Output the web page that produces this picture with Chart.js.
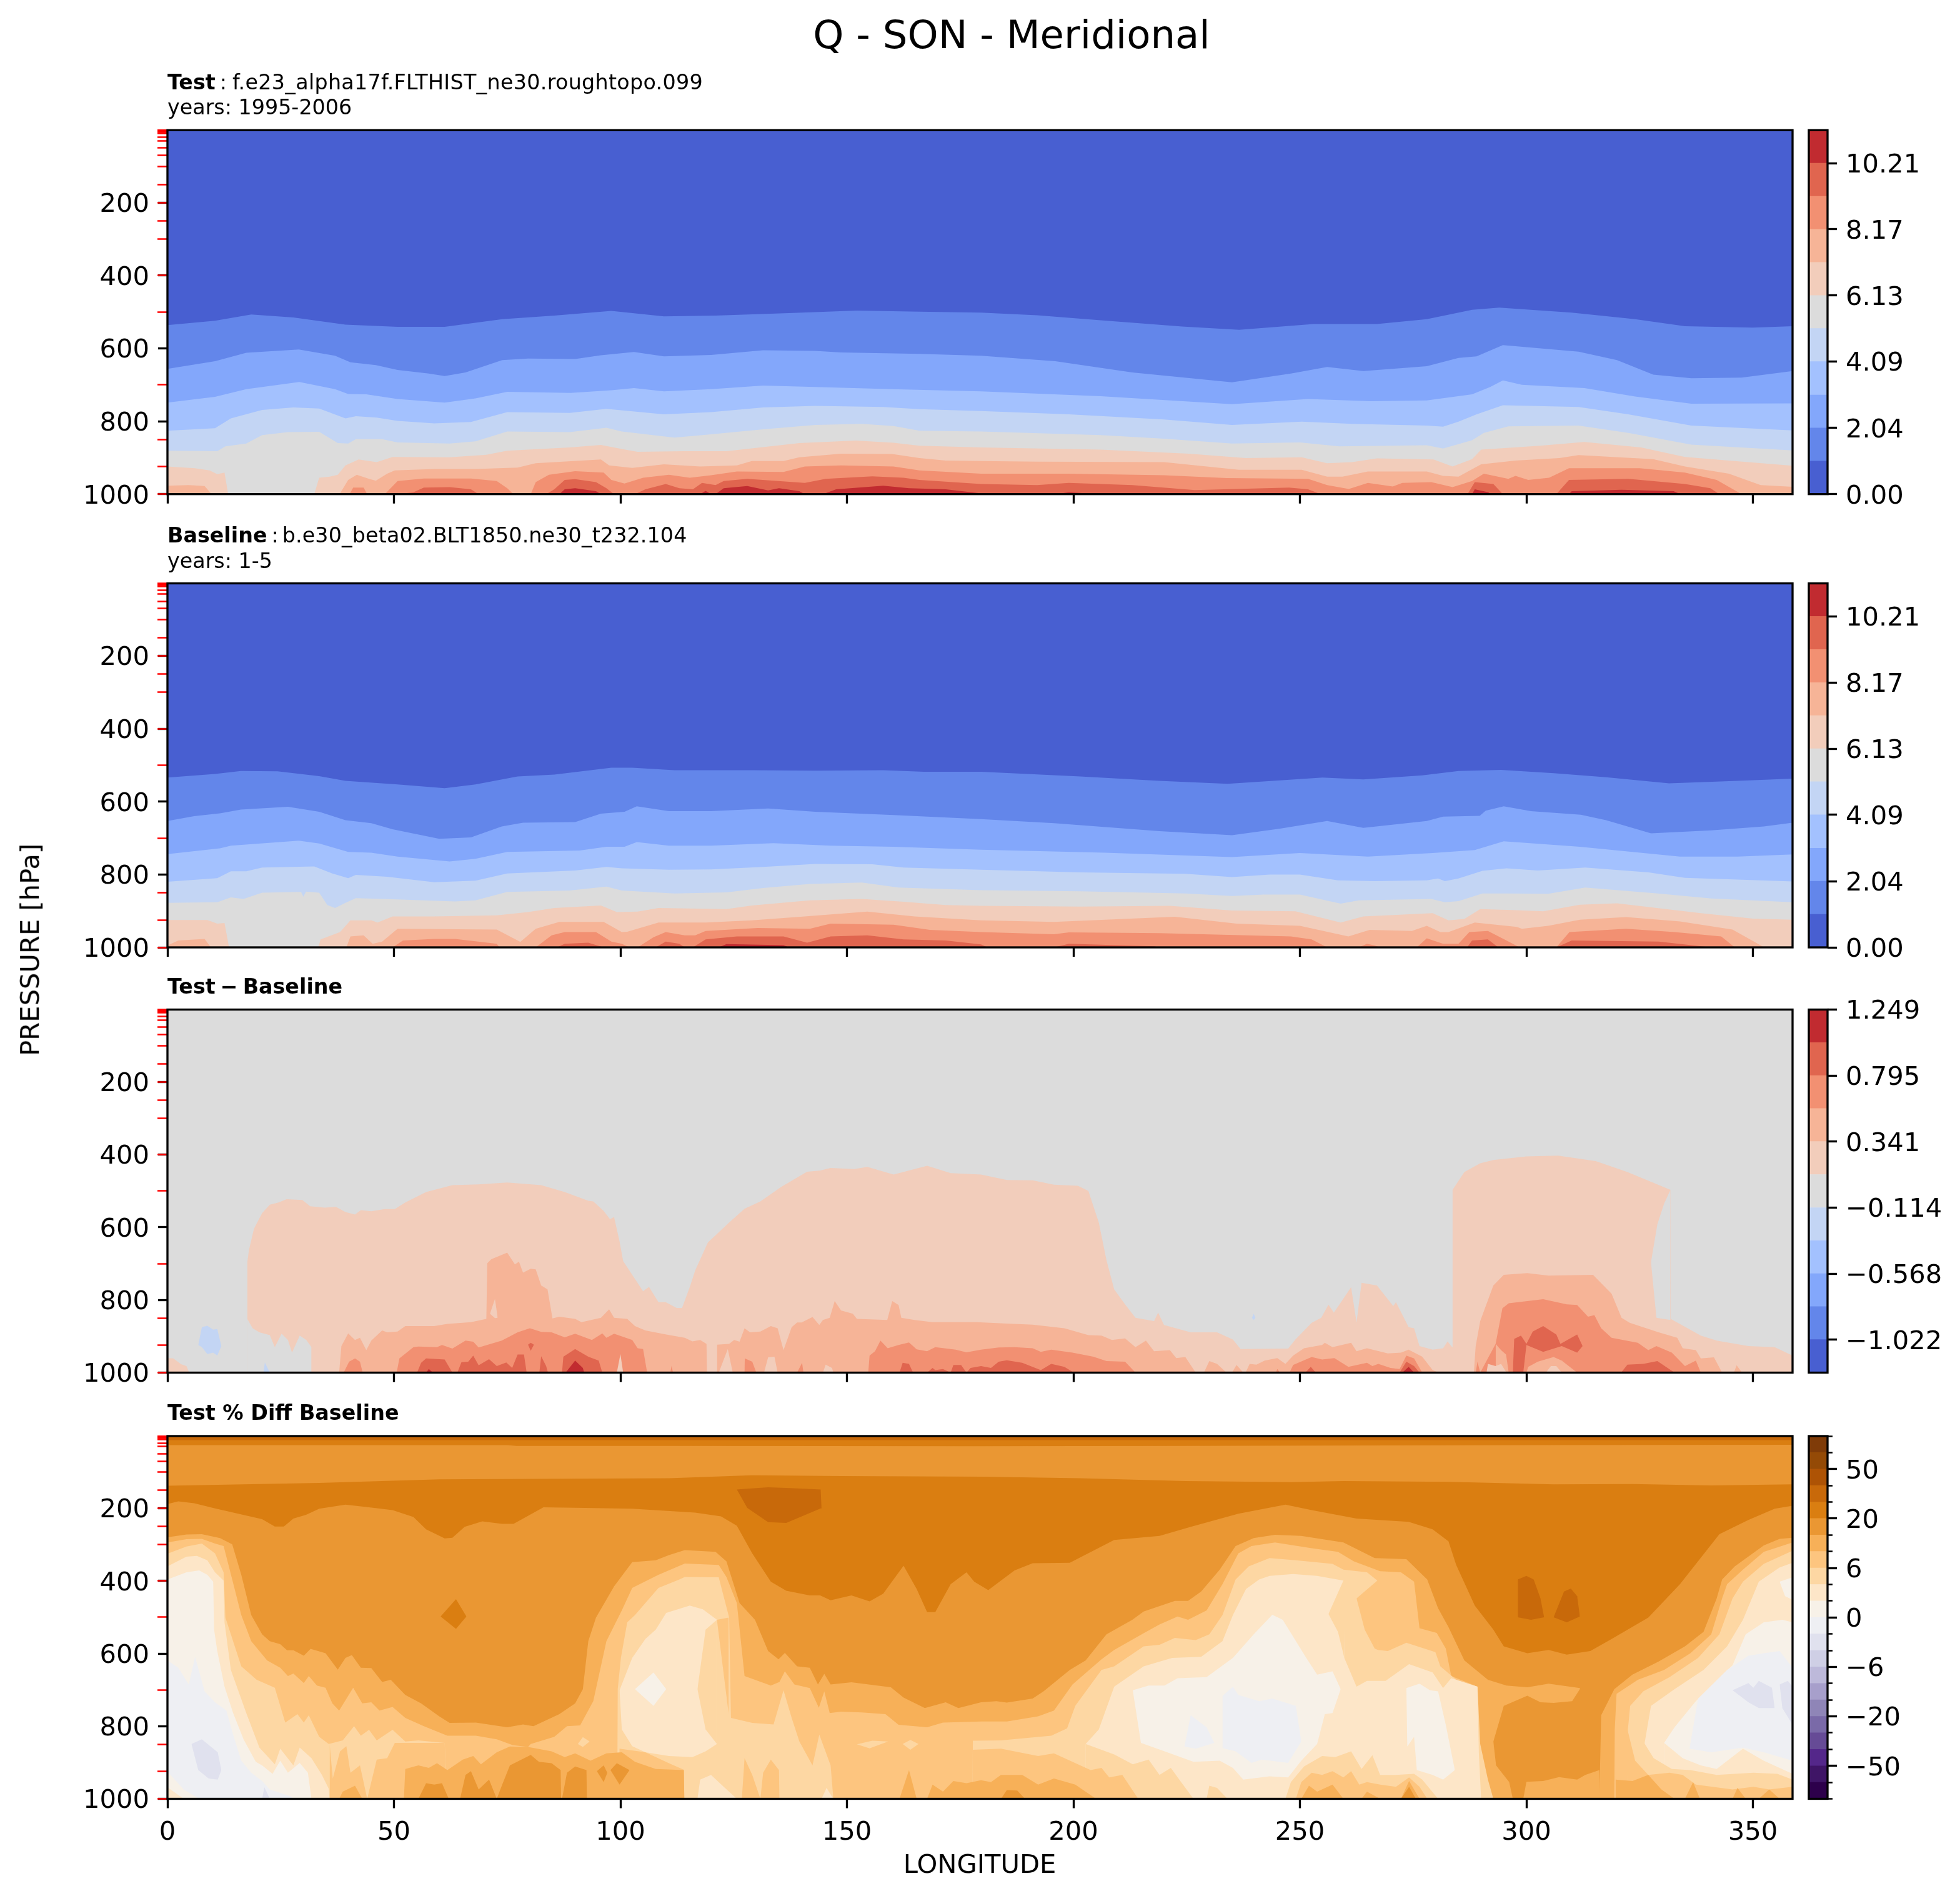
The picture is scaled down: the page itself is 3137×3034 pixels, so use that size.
<!DOCTYPE html>
<html><head><meta charset="utf-8">
<script src="https://cdn.jsdelivr.net/npm/chart.js@4"></script>
<style>
html,body{margin:0;padding:0;background:#fff}
#fig{position:relative;width:3137px;height:3034px;overflow:hidden;font-family:"DejaVu Sans",sans-serif;color:#000}
canvas{position:absolute;display:block}
.t{position:absolute;white-space:nowrap;line-height:1}
</style></head><body><div id="fig"></div>
<script>
// ===== Colour scales (bottom to top of the colour bars) =====
const COOLWARM=['#485fd1','#6386ea','#83a7fb','#a3c1fe','#c3d5f4','#dcdcdc','#f2cdbb','#f6b497','#f29072','#e0654f','#c12b30'];
const PUOR=['#2d004b','#3f1566','#54278a','#664b96','#7a6aa8','#8f85b7','#a79fcb','#bdb9da','#cfcfe5','#e0e1ee','#eeeff3','#f7f1e8','#fde6c8','#fdd7a3','#fdc57f','#f7b058','#ea9733','#da7e11','#c8690a','#ae5305','#944a06','#7f3b08'];
const CB1_LEVELS=[0,1.02,2.04,3.06,4.09,5.11,6.13,7.15,8.17,9.19,10.21,11.23];
const CB1_TICKS=[0,2.04,4.09,6.13,8.17,10.21];
const CB1_LABELS=['0.00','2.04','4.09','6.13','8.17','10.21'];
const CB3_LEVELS=[-1.249,-1.022,-0.795,-0.568,-0.341,-0.114,0.114,0.341,0.568,0.795,1.022,1.249];
const CB3_TICKS=[-1.022,-0.568,-0.114,0.341,0.795,1.249];
const CB3_LABELS=['\u22121.022','\u22120.568','\u22120.114','0.341','0.795','1.249'];
const CB4_LEVELS=[-100,-75,-50,-40,-30,-20,-15,-10,-6,-4,-2,0,2,4,6,10,15,20,30,40,50,75,100];
const CB4_TICKS=[-50,-20,-6,0,6,20,50];
const CB4_LABELS=['\u221250','\u221220','\u22126','0','6','20','50'];
const PLEVELS=[1,2,3,5,7,10,20,30,50,70,100,150,200,250,300,400,500,700,850,925,1000];
const PTICKS=[200,400,600,800,1000];
const LONTICKS=[0,50,100,150,200,250,300,350];

// ===== Panel 1: contour boundaries as lon,pressure pairs =====
const T_FULL=[0,1,358.75,1];
const T1=[0,536,10.5,524,18.5,507,27.8,515,39.3,535,50.8,541,61.2,541,73.9,520,85.4,510,98,497,109.6,512,121,510,137.2,503,152.2,496,166,499,179.6,502,192,509,206,523,224,540,236.6,549,253,533,267,533,278,520,288,494,294,488,310,502,324,520,335,539,350,543,358.75,539];
const T2=[0,656,10.5,635,17.4,612,29,603,37,620,40.4,638,46,646,50.8,659,57.7,669,61.2,676,65.8,666,73.9,632,79.6,628,90,629,95.7,619,103,610,109.6,622,120,618,131.5,605,143,607,148.7,611,166,615,179.6,620,196,635,213,666,235,693,248,669,256,651,264,662,278,649,285,626,289,622,294.8,591,311.5,609,320,632,328,672,336.4,682,347.5,680,358.75,662];
const T3=[0,749,10.5,733,17.4,712,29.1,692,37,712,39.9,725,43.9,726,50.8,739,61.2,749,68,737,75,719,89,722,98,715,103,709,109.6,718,120,712,131.5,702,143,706,160,712,179.6,718,206,731,235,753,251.8,739,265.7,745,278,743,288,726,292,706,294.8,688,299,700,312.8,709,324,732,336.4,752,358.75,751];
const T4=[0,826,10.5,819,14,792,20.9,769,27.8,762,33.5,765,39.3,792,41.6,786,46.2,790,50.8,799,58.9,806,67,802,75,775,88.8,777,96.9,766,109.6,781,120,775,131.5,762,143,758,158,761,166,767,179.6,772,199,781,220,795,235,810,250.4,801,261.5,807,278,812,281.6,815,285,801,289,781,294.8,756,311.5,761,322.5,781,336.4,812,358.75,825];
const T5=[0,881,11,882,12.8,869,17.4,861,20.9,838,26.6,830,33.5,829,37.6,860,39.9,861,41.6,849,47.4,849,50.8,858,62.3,861,68,855,75,828,88.8,830,96.9,818,100.3,828,111.9,845,120,836,131.5,822,143,810,153.3,807,160.3,813,166,826,179.6,828,206,838,220,848,235,861,250,858,258.7,869,278,866,281.6,875,288,852,290.6,832,296,814,311.5,812,322.5,832,336.4,864,358.75,880];
const T6=[0,924,6,929,9.3,935,11,945,12.6,941,13.4,1000,32.4,1000,33.5,955,35.8,952,37.6,947,39.3,921,42.2,905,46.2,912,49.7,898,62.3,899,70.4,892,75,881,88.8,872,95.7,865,100.3,876,103.8,884,114,882,123.4,882,131.5,871,139.5,860,152,853,160.3,859,166,867,179.6,872,206,878,225.5,889,238,901,250.4,899,256,915,261.5,912,267,902,279.5,905,283.7,924,288,904,290,878,303,867,312.8,857,325.3,872,335,898,344.7,908,358.75,922];
const T7=[0,977,4.7,975,8.2,978,9.6,998,10,1000,38,1000,39.9,961,41.8,947,44.5,958,46,963,48.5,944,50.2,935,59,931,68,931,77.3,927,81.3,915,95.7,905,97.5,921,102.6,928,109.6,918,117.6,924,125.7,921,129,909,136,909,139.5,899,148.7,889,160,890,166,901,171.8,908,179.6,909,192,911,220,912,236.5,933,250.4,933,256,952,259.4,952,265,938,278,938,281.6,950,285,952,290,918,297.6,908,307.3,901,311.5,893,328,904,335,924,344.7,944,351.7,975,358.75,980];
const T8=[40.2,1000,41,982,43.3,982,44.1,1000,48,1000,50.8,964,56.6,957,67,957,72.7,964,75,984,76.4,1000,80.2,1000,81.3,967,84.2,947,90,937,96.3,941,98,961,100.9,971,105,955,110.7,947,115.3,955,120,948,125.7,938,136,939,140.7,924,148.7,921,160.3,924,166,935,179.6,944,199,944,220,948,233.8,956,251.8,958,256,975,260.8,986,265,969,270.5,979,272.6,969,279,967,283.7,981,288,964,290.6,944,296,958,297.6,950,300.4,961,305,955,309.4,929,317,929,325,929,335,941,342,961,347.5,1000,358.75,1000];
const T9=[50.8,1000,54.3,995,56.6,982,62.3,981,67,987,68.7,1000,83.6,1000,85.4,987,87.7,961,90,959,94.6,967,96.9,984,98.6,1000,103.2,1000,105.5,987,110,972,113,984,116,987,118,969,121,975,122.8,964,128,958,140.7,969,145.3,958,155.6,951,162.5,955,166,961,179.6,972,192,975,199,969,213,975,226.8,989,247.6,982,251.8,987,254.6,1000,287,1000,288.6,967,292.7,972,294.8,1000,306.6,1000,309.4,961,322.5,958,335,972,340.6,984,342.6,1000];
const T10=[86.5,1000,87.7,987,90,984,94.6,992,95.7,1000,117.6,1000,118.8,991,120,1000,121,1000,122.8,984,128,978,132.6,990,135,984,139.5,992,140.7,1000,144.7,1000,147.6,987,158,977,163.7,984,171.8,987,179.6,998,196,1000,199,995,206,1000,288,1000,288.6,987,291.6,995,292,1000,309.4,1000,310,992,321,988,332.5,992,334,1000];

// ===== Panel 2 =====
const B1=[0,534,10.5,524,16.2,516,24.3,517,33.5,530,39.3,543,50.8,553,61.2,563,68,553,77.3,531,85.4,526,98,507,102.6,507,111.9,514,129,514,143,515,158,514,167,518,179.6,518,201.5,531,219,543,234,551,243,544,255,534,264,539,277,528,285,516,294.4,513,306,522,317.6,533,331.5,550,346.6,543,358.75,537];
const B2=[0,653,5.9,640,11.6,632,16.2,622,26.6,614,33.5,628,39.3,651,45,659,49.7,676,60,702,67,698,73.8,668,78.5,658,90,656,95.7,633,100.9,628,103.6,613,110.7,626,120,626,132.6,619,143,628,160.3,637,179.6,648,195.7,659,219,681,235,692,245.6,674,256,653,264,672,278,653,281.6,641,289.7,639,291,625,295,613,301,626,312,636,317.6,651,327.5,687,340.8,679,352.4,668,358.75,658];
const B3=[0,744,11.6,728,14,721,29,707,33.5,715,39.9,738,45,740,50.8,751,62.3,764,68,757,75,738,91,734,96.9,724,100.9,724,103.6,711,110.7,721,120,721,133.8,714,146.4,721,160.3,724,179.6,732,207,740,235,752,250,741,265,751,279.3,741,288.6,733,295,709,311.8,724,333.9,751,346.6,751,358.75,745];
const B4=[0,820,11,810,14,791,17.4,791,20.9,781,32.4,778,36.4,797,39.9,810,41.6,801,48.5,806,58.9,821,68,817,75,797,90,789,96.9,779,100.3,783,110.7,787,120,786,131.5,779,143,771,155.6,772,162.5,781,179.6,787,201.5,794,224.7,798,235,807,243.3,800,250,800,258.4,816,266.5,818,278,816,280.5,811,282,818,285,811,290.3,790,295.6,783,302.5,789,313,781,327,794,335,809,346.6,814,358.75,819];
const B5=[0,878,11,876,14,863,16.8,867,20.9,850,29.5,848,30,861,30.6,847,33.5,850,35.3,884,37,892,39.3,878,41.6,865,49.7,868,63.5,874,68,871,75,848,88.8,844,96.9,833,100.3,844,111.9,852,123.4,849,131.5,837,141.8,826,153.3,822,161.4,836,179.6,843,201.5,846,224.7,852,235,859,242,855,250,855,259,880,263,871,279,867,282,876,285,873,290.3,852,295.6,852,304.8,853,313,836,329,852,340.8,866,358.75,876];
const B6=[0,925,8.8,925,11,935,12.6,933,13.6,1000,33.3,1000,33.8,978,38.1,958,40.4,926,45,926,46.4,932,49.7,915,58.9,915,72.7,912,79.6,903,85.4,892,95.7,885,99.2,903,103.8,902,108.4,892,123.4,895,129,885,141.8,871,153.3,867,162.5,875,171.8,884,179.6,886,201.5,888,221.3,886,235,899,249,901,259,932,264,915,279.3,906,282.8,926,286.3,922,289.8,895,297.9,898,303.7,901,311.8,883,320,879,338.5,906,350,921,358.75,924];
const B7=[0,995,2.4,981,8.2,977,9.6,1000,39.5,1000,40.4,970,43.3,967,45.3,990,47.4,984,50.8,949,72.7,951,77.9,985,81.3,949,86.5,930,96.3,930,100.3,958,101.5,957,108.4,932,118.8,932,129,926,140.7,915,154.5,902,164.9,915,179.6,926,195.7,930,222.4,916,236,935,250,941,260.7,970,265.4,952,274.7,955,278,941,281,958,282.8,958,288.6,932,297.9,944,299,949,304.8,941,311.8,924,322,917,333.9,929,345.5,951,352.5,1000];
const B8=[49.7,1000,52,981,58.9,977,63.5,977,72.7,990,73.3,1000,81.3,1000,84.8,967,87.7,958,94.6,958,98,984,100.3,990,102,1000,103.8,1000,107.3,972,110,958,114.2,967,116.5,967,118.8,955,130.3,947,141.8,949,146.4,935,160.3,938,168.3,952,179.6,958,195.7,964,199,959,219,961,248,970,252.6,978,256,1000,263,1000,264.8,990,266.5,995,267.7,1000,275.8,1000,278,975,281.6,990,285,990,287.4,958,291.5,955,295.6,981,298.5,1000,306.6,1000,309.5,958,322,949,332.7,958,343,970,346,1000];
const B9=[86,1000,87.7,990,92.9,987,96.3,1000,107.8,1000,110,984,113,990,114.2,1000,116,1000,118.8,978,125.7,970,136,970,141.2,987,146.4,970,154.5,967,162.5,978,171.8,981,179.6,992,181,1000,195.7,1000,199,990,217.8,997,219,1000,286.9,1000,288,981,291.5,978,293.8,1000,306.6,1000,310,981,329.2,984,340.8,1000];
const B10=[121.7,1000,123.4,991,136,994,137.2,1000];

// ===== Panel 3 =====
const D1A=[0,960,1.3,961,3,977,4.2,982,4.8,1000];
const D1=[17.6,852,17.63,696,18,662,19.1,604,20.9,561,22.6,538,24.5,532,26.3,523,29.8,525,31.5,542,34.7,546,37.2,544,39.3,558,41.4,565,42.7,553,45,556,48,550,50.2,550,52.5,532,57.1,503,62.9,484,68.7,482,75,477,82.5,484,87.7,503,92.9,527,94,529,96.3,555,97.7,578,98.6,572,99.8,639,100.6,693,103.2,742,105,776,106.3,764,108.4,806,110,806,112.4,822,113.6,822,115.3,765,116.5,719,119.3,642,124,587,127.4,549,130.9,529,135.5,489,141.2,447,144,444,146.4,437,151.6,440,154.5,434,160.3,455,167.7,431,172.9,451,179.6,455,185.3,470,191,471,195.7,483,201,486,203.3,500,205.6,587,207.3,691,209,771,211.4,812,213.7,849,217.8,858,218.7,835,220,869,225.9,889,231.7,889,235.2,909,236.9,935,247.4,934,249,909,252.6,863,254.7,849,256.3,813,257.5,835,261.3,765,262.5,862,263.6,753,267,760,270.6,817,271.2,806,274,875,275.2,878,276.4,927,279.3,937,281.6,933,282.6,914,283.6,930,283.7,497,286.3,448,289.8,424,292.7,415,300,405,307,403,315.3,418,322.3,448,331.8,497,331.85,852,338.5,898,342,912,349,927,354.8,930,358.75,953];
const D1_GRAY=[17.63,852,18.8,878,20.3,889,22.6,897,23.7,930,25.2,893,26.6,910,27.5,945,29.2,898,30.65,910,31.8,930];
const D1_GRAY_R_U=[327.5,696,328.9,592,330.4,535,331.8,497];
const D1_GRAY_R_L=[327.5,696,328.7,849,331.8,855];
const DBLUE1_U=[6.8,924,7.6,875,8.8,871,10.1,882,11,880,11.9,927];
const DBLUE1_L=[6.8,924,7.6,930,8.8,949,10.1,945,11,953,11.9,927];
const DBLUE2=[21.2,1000,21.5,972,22.6,1000];
const DBLUE3_U=[239.4,849,239.8,838,240.2,849];
const DBLUE3_L=[239.4,849,239.8,855,240.2,849];
const D2=[37.9,1000,38.4,927,39.9,892,41.4,910,42.5,904,43.9,938,45,912,47.4,884,48.5,889,50.8,887,52.5,872,58.9,872,61.8,866,67,861,70.4,852,70.6,699,71.5,688,75,670,76.7,702,77.6,695,78.5,725,80.2,714,81.3,716,82.5,760,83.9,771,85,851,86.5,846,90,852,91.4,861,95.7,849,97.5,826,98.6,849,101.5,852,103.2,872,105.5,884,110.1,895,114.2,904,115.9,914,117.6,910,119,921,119.1,1000,121.3,1000,121.35,923,124,921,125.1,910,126.3,915,127.4,878,128.6,889,130.9,887,133.2,872,134.7,878,136,938,137.8,875,139,862,140,862,142.4,847,143.9,869,144.7,855,146.2,849,147.3,803,148.7,829,151.3,838,152.2,852,158.9,855,160,803,161.4,814,162,849,164.9,855,168.9,861,178.7,861,185.3,865,191,868,198,878,203.3,897,206.2,898,208.5,910,211.4,906,213.7,930,216,912,217.8,941,221.3,938,222.7,960,224.7,957,227,1000,228.8,1000,230,968,231.7,976,233.8,1000,235,1000,236,979,237.5,1000,238,1000,238.9,976,240.4,978,242.2,967,245,960,246.8,976,248.5,953,250.9,933,254.9,924,255.5,918,257.2,930,261.3,918,262.5,941,264.8,933,269.4,947,272.3,945,274,937,277,956,279.3,993,280.7,1000,288.4,1000,288.8,927,289.8,858,292.7,760,295,731,300.2,726,304.9,733,314.7,731,318.8,783,321,849,322.8,863,329.2,889,333.3,904,334.5,933,337.4,938,338.5,961,341.4,958,343.2,1000,345.8,1000,346.4,980,347.6,1000];
const D3=[38.9,1000,40.1,970,41.4,961,42.5,970,43.1,1000,50.6,1000,51.2,961,54.3,930,55.4,928,59.5,930,60.6,924,62.9,934,65.8,912,67.5,915,68.7,931,73.8,912,77.3,889,80,878,82.5,888,84.8,889,87.7,903,90,893,93.7,910,96,892,96.9,904,98.6,893,100.9,903,102.6,910,103.8,933,105,935,105.9,1000,111,1000,111.3,981,111.6,1000,127.4,1000,127.45,961,129.1,970,130,1000,139,1000,140.1,973,140.4,1000,154.7,1000,155,953,156.2,941,157.4,912,159,933,161.4,924,163.7,917,165.4,936,167.7,941,169.5,930,174,937,176.4,944,179.6,937,183.5,931,187,930,191,933,192.8,943,195.1,937,199.8,945,204.4,956,207.3,968,211.4,970,213.7,1000,244.7,1000,245,990,245.6,1000,247.7,1000,248.5,979,252.6,957,254.9,964,257.6,960,260.7,984,264.8,973,266,982,267.3,976,270,987,272,990,273.5,953,275.2,961,277,1000,288.8,1000,289.2,970,289.8,1000,293.2,921,294.7,823,296.1,809,300.2,803,303.7,798,308.9,812,311.2,814,313.6,846,315,842,316.5,878,318.8,904,324.6,918,326.9,938,328.7,927,332.1,945,335,982,337.4,967,338.5,1000];
const D3_SALMON=[293.2,921,294.4,938,295.5,950,296.1,1000];
const D3_SALMON2=[300,1000,300.4,984,302.5,970,306,957,307.8,967,311.2,1000];
const D4=[55.1,1000,56,973,57.1,961,61.2,964,62.9,1000,64,1000,64.9,971,66.4,970,67.5,953,68.7,980,71,963,72.7,982,74.8,972,76.1,987,77.3,950,78.7,950,79.3,1000,82.1,1000,82.5,955,83.6,982,84,1000,87.1,1000,87.4,956,90,935,92.9,956,95.2,967,96,1000,161.6,1000,162.3,973,163.7,976,164.6,1000,167.7,1000,168.9,987,169.5,993,171.2,990,172.9,1000,173.5,979,175.2,979,176.4,1000,177.3,987,179.6,982,181.8,987,183.5,970,185.3,966,188.7,973,192.8,993,195.1,976,198,984,200.1,1000,251.2,1000,252.4,984,253.5,1000,272,1000,273.5,970,275.2,982,276.4,1000,320.9,1000,322.3,978,325.8,976,328.9,968,332.7,1000];
const D4_U=[297,1000,297.3,907,298.8,898,300,921,301.4,887,303.7,872,306.6,895,307.5,921,311.2,895,312.4,927];
const D4_L=[297,1000,299.3,1000,300,924,303.7,943,307.8,927,311.2,945,312.4,927];
const D4_DIA_U=[79.6,923,80.2,918,80.9,923];
const D4_DIA_L=[79.6,923,80.2,940,80.9,923];
const D5=[57.1,1000,57.7,990,58.6,1000,87.9,1000,90,967,91.7,987,92,1000,272.6,1000,274,984,275.2,1000];
const D_WEDGE=[99.2,1000,100,949,100.6,1000,121.7,1000,123.7,935,124.8,1000,131.7,1000,132.6,958,134,956,134.7,1000,144.7,1000,145.3,978,146.7,987,147,1000,291.2,1000,291.5,976,293.2,982,294.4,976,295.6,1000,304.3,1000,305.4,982,306.6,982,307.8,1000];
const D_SLIT_U=[71.2,838,72.3,797,72.9,849];
const D_SLIT_L=[71.2,838,72.3,850,72.9,849];

// ===== Panel 4 =====
const P1=[0,12,358.75,12];
const P2=[0,26,75,26,77,28,110,28,178,29,224.7,28,300,26,358.75,25];
const P3=[0,138,33.5,130,60,120,110.7,117,129,109,148.7,111,179.6,113,201.5,117,224.7,125,248,128,259.6,125,282.8,127,306,134,323.4,133,340.8,137,358.75,134];
const PB1_U=[125.7,148,128,146,132.6,142,136.6,144,144.2,148,144.4,200];
const PB1_L=[125.7,148,128,199,132.6,238,136.6,240,144.2,200,144.4,200];
const PB2_U=[298.1,396,300,386,301.6,396,303.1,448,303.9,500];
const PB2_L=[298.1,500,301,507,303.9,500];
const PB3_U=[306,500,308.3,429,309.8,421,311.2,442,311.8,498];
const PB3_L=[306,500,308.9,514,311.8,498];
const P4=[0,188,2.4,181,5.9,186,10.5,200,20.9,230,23.7,250,25.7,250,27.8,228,30.6,218,33.5,201,39.3,190,44.5,197,49.7,205,54.3,224,57.1,258,61.2,283,62.9,281,65.6,251,69.5,236,73.9,243,76.4,243,83,197,92.3,199,102.6,201,116.5,212,122.2,222,125.7,248,129.1,324,133.2,402,136.6,427,141.8,440,144.1,440,146.4,453,151,440,155,456,158,435,162.5,358,165.4,422,167.7,486,169.5,486,172.9,409,176.4,376,178.1,402,181.2,425,184,399,187,371,191,351,199.2,350,209,287,219,276,225.9,251,236.4,215,246.8,190,252.6,205,262.5,228,274,237,279.3,258,282.8,291,284.5,356,288.6,468,292.7,534,295,580,300.2,599,304.9,590,308.9,603,314.1,593,318.8,560,326.9,501,333.9,409,342.6,271,349,232,354.8,201,358.75,193];
const PD_U=[60.3,498,63.7,450,66,498];
const PD_L=[60.3,498,63.7,532,66,498];
const P5=[0,280,4.2,272,7.6,271,11.6,282,14.3,299,16.3,383,18.5,494,20.9,547,22.6,566,24.9,574,26.4,591,27.8,591,30.1,606,31.6,587,34.9,599,37.6,644,39.3,612,40.7,604,42.7,639,45,640,47.4,678,49.3,672,52.5,714,56,737,60,773,62.3,791,68.1,790,75,803,78.5,795,80.8,800,86.5,767,90,737,91.7,698,92.9,566,94.6,501,98.6,415,102.6,348,107.8,343,110.7,329,114.2,315,121,320,123.4,346,126.3,461,129.7,507,132.6,593,134.9,616,136.3,598,139,635,141.8,639,143.6,685,145,656,146.4,685,151,679,159.7,693,162.5,721,167.2,750,171.8,734,174.6,750,179.6,734,183,731,185.3,735,191,724,193.4,704,199.2,645,202.7,619,207.3,547,213,507,215.5,484,222.4,455,225.3,455,228.2,429,232.3,369,235.8,304,239.8,282,244.5,273,250.3,276,259.6,294,266.5,337,273.5,340,278.1,396,280.5,475,282.8,527,286.3,619,291.5,672,295.6,688,300.2,693,304.9,683,311.8,695,311.9,1000,316.1,1000,316.5,770,319.4,698,323.4,658,329.2,622,335,580,339.1,540,342,448,343.2,396,346,360,352.4,302,355.9,284,358.75,281];
const P6=[0,294,4.2,285,7.6,284,10.5,297,12.4,304,14.3,396,16.3,494,18.5,566,22,619,24.9,639,26.6,662,27.8,655,30.1,681,31.2,662,33,688,34.9,694,36.4,737,37.9,757,41,694,43,737,45,734,46.8,757,49.7,747,52.5,777,56.6,800,61.8,826,68.1,826,72.7,836,76.2,852,79.6,857,80.2,849,85.4,829,88.2,800,91.1,798,94,731,96.9,566,100.3,481,102.6,419,108.4,383,114.2,352,121.7,356,123.4,389,125.7,461,127.4,662,133.2,688,135.1,678,136.3,649,138.4,685,141.8,695,143.8,749,145,704,146.2,764,148.7,760,153.3,762,158.5,767,161.4,796,167.7,803,171.2,790,179.6,787,185.3,787,192.2,773,195.7,757,199.8,685,206.2,616,209,590,215.5,544,219,520,223,498,225.3,507,229.4,481,232.9,409,236.4,324,239.3,304,244.5,294,252.6,310,258.4,320,261.9,346,267.7,373,272.3,376,275.2,402,276.4,530,280.2,543,282.2,586,283.4,662,288.6,688,289.5,849,290.1,961,290.7,1000,319.4,1000,319.5,809,319.9,711,324.6,672,330.4,645,336.2,599,340.8,547,343.2,448,344.3,409,347.8,369,352.4,320,358.75,294];
const P7=[0,325,4.2,305,7.6,297,10.5,324,12.4,376,12.8,501,16.3,635,19.7,672,23.7,694,26,790,28.7,767,30.1,790,31.2,770,33.5,829,35.6,849,38.7,839,41.2,800,42.7,826,44.5,810,46.2,839,49.7,810,52.5,842,55.4,839,61.2,846,61.8,1000,99.3,1000,99.4,698,100.1,612,101.5,514,103.2,494,105.5,461,108.4,419,113,396,114.2,389,121.7,390,124,501,124.4,777,129.1,791,133.8,795,136,701,137.8,777,139.5,842,142.4,908,143.9,823,146.4,908,147,1000,177.7,1000,177.8,840,184,839,189.9,832,195.1,826,198.6,806,200.4,744,206.2,645,209,635,215.5,580,219,576,222.4,557,227,563,230,547,232.9,494,235.8,396,238.7,360,243.3,337,249.1,343,257.2,353,259.6,369,264.8,376,267.1,399,267.2,590,269.4,593,273.5,570,279.9,596,281,635,284.5,672,289.2,691,289.8,849,291.5,947,292.7,1000,322.3,1000,322.4,809,322.9,744,325.8,704,331.6,665,337.9,612,342.6,547,345.5,448,347.8,402,352.4,353,358.75,317];
const PK1_U=[121.3,507,123.9,501];
const PK1_L=[121.3,507,124,777];
const PK2_U=[262.5,448,267.1,399,267.2,399];
const PK2_L=[262.5,448,264.3,534,266.5,586,267.2,590];
const P8=[0,360,4.2,333,6.5,331,8.8,343,10.5,376,12.4,399,12.6,514,14,645,17.4,764,20.3,859,23.7,905,24.9,862,27.8,908,29.2,859,31.8,888,34.1,934,35.6,972,35.8,1000,202.6,1000,202.7,849,205.6,809,209,691,215.5,635,221.8,612,228.2,609,232.9,566,235.2,494,238.1,422,241,396,243.3,386,248.5,381,253.8,386,259.6,399,259.8,612,262.5,691,264.8,675,268.9,675,274.1,629,279.3,652,281.6,695,283.4,668,289.2,691,289.5,875,290,1000,326,1000,326.1,846,327.5,744,332.7,698,339.1,645,344.3,580,347.8,507,351.3,402,355.9,363,358.75,350];
const PC_U=[99.8,701,102.6,612,105.5,560,107.8,534,110.1,488,115.3,468,118.2,478,121.3,507];
const PC_L=[99.8,701,100.3,809,102.6,855,105.5,872,110.7,882,115.9,885,118.8,869,121.3,849];
const PK3_U=[117,698,118.8,534,121.3,507];
const PK3_L=[117,698,118.8,809,121.3,849];
const PK4_U=[256.3,491,259.6,399,259.8,399];
const PK4_L=[256.3,491,258.4,540,259.8,612];
const P9L=[0,396,4.2,376,7,371,8.8,383,10.1,402,10.3,534,11,593,12.6,691,14.5,764,16.8,836,19.5,898,20.9,908,23.2,931,24.9,895,26.6,928,29.2,901,31,928,31.8,1000];
const P9R=[330.3,1000,330.4,846,332.7,803,337.4,731,345.5,632,348.4,547,352.4,514,356.5,507,358.75,514];
const PA_U=[213.1,701,216.6,688,220.1,688,223,668,229.4,665,235.2,612,239.8,547,243.9,493,246.2,507,251.4,612,253.8,658,257.2,649,259,698];
const PA_L=[213.1,701,214.9,846,220.7,872,226.5,898,232.3,895,235.2,915,237.5,947,243.3,938,247.4,941,250.3,895,253.8,849,255.5,767,257.2,764,259,698];
const PW_U=[273.5,695,276.4,683,278.7,701,280.5,704,282.2,796,284.2,921];
const PW_L=[273.5,695,273.7,856,275.2,829,275.8,921,279.3,934,281.6,947,284.2,921];
const PW2_U=[103.2,698,107.3,652,110.1,698];
const PW2_L=[103.2,698,107.3,744,110.1,698];
const PW3_U=[355.9,402,358.75,390];
const PW3_L=[355.9,402,357.1,442,358.75,452];
const P10L=[0,619,2.4,639,4.7,685,6.1,609,8.2,704,10.5,734,13,757,14.5,823,16.3,895,18.5,928,20.9,951,22.6,974,27.2,993,27.8,1000];
const PG1_U=[224.5,856,225.9,770,229.4,803,231.1,846];
const PG1_L=[224.5,856,227,862,231.1,846];
const PG2_U=[232.9,717,235.2,691,236.4,714,241,731,243.9,724,249.1,744,250.3,842];
const PG2_L=[232.9,860,235.8,869,239.3,901,241.6,892,247.4,901,250.3,842];
const PG3_U=[336,862,337.9,724,344.3,645,349,606,352.4,599,355.9,593,358.75,639];
const PG3_L=[336,862,340.8,872,347.8,859,352.4,872,358.75,895];
const PV1_U=[5.3,849,7.6,836,11.1,872,11.9,921];
const PV1_L=[5.3,849,6.8,921,9.1,944,11.1,947,11.9,921];
const PV2=[20.9,1000,21.4,968,22.6,1000];
const PV3_U=[345.5,701,349,681,350.1,694,351.3,675,354.2,694,354.8,750];
const PV3_L=[345.5,701,349,734,351.3,750,354.8,750];
const PV4_U=[355.9,685,357.7,675,358.75,691];
const PV4_L=[355.9,685,356.5,750,358.75,796];
const L_W=[0,925,3.6,974,7,1000,118.8,1000,120,980,121.7,1000];
const L_E=[0,968,3.6,1000,117,1000,117.6,947,120,934,122.8,967,125.7,1000,131.5,1000,133.2,961,134.3,1000,144.4,1000,145.5,970,147,1000,304.3,1000,305.8,984,307.8,1000,330.3,1000,330.4,846,334.5,888,338.5,908,342,918,347.8,862,352.4,895,358.75,931];
const L_D=[106.1,1000,106.7,961,109,944,110.1,1000,202.6,1000,202.7,849,209,878,213.1,905,216.6,892,219,934,221.5,915,223.6,951,226.5,1000,229.4,1000,230,964,231.7,970,234,1000,246.8,1000,248,954,250.9,911,254.9,882,257.8,885,261.3,869,263.6,918,266,880,267.7,934,271.2,934,275.2,931,277,947,280.5,1000,301.4,1000,303.1,980,305.8,967,308.3,993,308.9,1000,325.9,1000,326,846,328.1,888,332.1,918,336.2,921,342,934,350.1,928,355.4,931,358.75,947];
const PS1_U=[152.2,850,155.6,840,159.1,842];
const PS1_L=[152.2,850,155,861,159.1,842];
const PS2_U=[162.3,849,164,838,165.8,849];
const PS2_L=[162.3,849,164,865,165.8,849];
const PS3_U=[90.6,849,91.7,830,93.2,842];
const PS3_L=[90.6,849,91.7,857,93.2,842];
const L_C=[35.8,849,36.5,944,38.1,869,39.5,855,40.4,928,42.5,908,44.1,1000,46.2,892,48.5,888,50.2,846,61.2,846,61.7,1000,99.7,1000,99.8,862,105.5,872,110.7,902,114,920,114.1,1000,126.8,1000,127.4,888,129.1,934,130.9,1000,131.5,928,133.2,892,135,921,135.1,1000,177.7,1000,177.8,865,184,862,192.2,882,195.7,875,203.8,921,206.2,915,207.9,941,210.8,934,214.3,1000,249.1,1000,250.3,954,252.6,928,254.9,934,257.2,924,259.6,941,261.3,924,263.1,961,264.8,954,267.7,961,271.2,967,274.1,941,276.4,967,278.1,1000,299.6,1000,300.8,980,303.1,961,306,951,309.5,967,313,1000,322.2,1000,322.3,809,324,895,326.9,934,331.6,928,334.5,934,337.4,961,345.5,974,350.1,967,353.6,974,358.75,967];
const L_B=[37.9,1000,38.7,980,41.4,964,43,1000,52.2,1000,52.5,918,55.4,908,57.7,915,59.5,902,61.8,921,65.2,892,67.5,882,69.2,905,72.7,872,75.6,856,79.6,857,84.8,869,87.7,885,90,875,93.4,895,96.9,875,100.3,872,103.2,898,107.8,918,114,921,114.1,1000,161.6,1000,163.7,921,165.4,1000,167.7,1000,168.9,961,171.2,980,173.5,951,176.4,957,179.6,949,181.8,954,184,934,188.7,934,192.2,961,195.7,944,200.4,961,205,1000,250.3,1000,252,964,253.8,980,257.2,961,259.6,1000,263.6,1000,264.8,980,267.7,1000,272.3,1000,274.1,951,276.4,1000,292.6,1000,292.7,842,293.3,908,296.2,954,297,1000,299.3,1000,300,953,303.7,951,307.2,940,311.2,947,313,934,316.1,921,316.2,1000,319.6,1000,319.7,947,323.4,951,326.9,934,329.8,974,332.7,1000,335,1000,336.8,954,338.3,1000,345.5,1000,346.6,970,348.4,1000,351.3,1000,353.6,974,355.9,1000];
const L_O1=[55.4,1000,57.1,957,58.9,961,60.6,957,62.1,1000,64.6,1000,65.8,934,67,924,68.7,974,71,947,72.7,1000,73.9,961,75.6,908,80.2,879,82,898,84.8,902,86.8,921,86.9,1000,87.1,1000,88.2,928,90,911,92.5,921,92.6,1000,184,1000,185.3,976,187.6,977,189.3,1000,272.3,1000,274.1,967,275.6,1000];
const L_O2=[292.7,842,295,744,300.2,716,303.1,734,306,736,310.1,731,311.8,698,312.1,698];
const PO1_U=[94.8,924,96.3,908,97.1,928];
const PO1_L=[94.8,924,96.3,954,97.1,928];
const PO2_U=[97.8,921,99.2,902,102,921];
const PO2_L=[97.8,921,99.8,961,102,921];

// ===== Paint order: [colour index, upper boundary, optional lower boundary] =====
const LAYERS1=[[0,T_FULL],[1,T1],[2,T2],[3,T3],[4,T4],[5,T5],[6,T6],[7,T7],[8,T8],[9,T9],[10,T10]];
const LAYERS2=[[0,T_FULL],[1,B1],[2,B2],[3,B3],[4,B4],[5,B5],[6,B6],[7,B7],[8,B8],[9,B9],[10,B10]];
const LAYERS3=[[5,T_FULL],[6,D1],[6,D1A],[5,D1_GRAY],[5,D1_GRAY_R_U,D1_GRAY_R_L],[4,DBLUE1_U,DBLUE1_L],[4,DBLUE2],[4,DBLUE3_U,DBLUE3_L],[7,D2],[6,D_SLIT_U,D_SLIT_L],[8,D3],[7,D3_SALMON],[7,D3_SALMON2],[9,D4],[9,D4_U,D4_L],[9,D4_DIA_U,D4_DIA_L],[10,D5],[6,D_WEDGE]];
const LAYERS4=[[18,T_FULL],[17,P1],[16,P2],[17,P3],[18,PB1_U,PB1_L],[18,PB2_U,PB2_L],[18,PB3_U,PB3_L],[16,P4],[17,PD_U,PD_L],[15,P5],[14,P6],[13,P7],[14,PK1_U,PK1_L],[14,PK2_U,PK2_L],[12,P8],[12,PC_U,PC_L],[13,PK3_U,PK3_L],[13,PK4_U,PK4_L],[11,P9L],[11,P9R],[11,PA_U,PA_L],[11,PW_U,PW_L],[11,PW2_U,PW2_L],[11,PW3_U,PW3_L],[10,P10L],[10,PG1_U,PG1_L],[10,PG2_U,PG2_L],[10,PG3_U,PG3_L],[9,PV1_U,PV1_L],[9,PV2],[9,PV3_U,PV3_L],[9,PV4_U,PV4_L],[11,L_W],[12,L_E],[13,L_D],[13,PS1_U,PS1_L],[13,PS2_U,PS2_L],[13,PS3_U,PS3_L],[16,L_O2],[14,L_C],[15,L_B],[16,L_O1],[16,PO1_U,PO1_L],[16,PO2_U,PO2_L]];

// ===== Layout =====
const PX_LEFT=268,PX_RIGHT=2869,CB_LEFT=2895,CB_RIGHT=2925,W=3137;
const PANELS=[{top:208.3,bottom:790.7},{top:933.5,bottom:1516},{top:1615.5,bottom:2196.5},{top:2298,bottom:2878.5}];
const FS=41.67,FF='"DejaVu Sans"',LW=3.33;
const fig=document.getElementById('fig');
const frame={id:'frame',afterDraw(c){const a=c.chartArea,x=c.ctx;x.save();x.strokeStyle='#000';x.lineWidth=LW;x.strokeRect(a.left,a.top,a.right-a.left,a.bottom-a.top);x.restore();}};
function canvasAt(l,t,w,h){const c=document.createElement('canvas');c.width=w;c.height=h;c.style.left=l+'px';c.style.top=t+'px';c.style.width=w+'px';c.style.height=h+'px';fig.appendChild(c);return c;}
const pts=a=>{const o=[];for(let i=0;i<a.length;i+=2)o.push({x:a[i],y:a[i+1]});return o;};
function datasets(layers,cols){
  const out=[];
  layers.forEach(([ci,u,l])=>{
    const base={pointRadius:0,borderWidth:0,tension:0,backgroundColor:cols[ci],borderColor:cols[ci]};
    if(l){out.push({...base,data:pts(l),fill:false});out.push({...base,data:pts(u),fill:'+1'});}
    else out.push({...base,data:pts(u),fill:'start'});
  });
  return out.reverse();
}
function panel(i,layers,cols,showX){
  const p=PANELS[i],mt=60,h=p.bottom-p.top,H=Math.round(h+mt+(showX?100:60));
  const T=Math.round(p.top-mt),top=p.top-T,xh=H-top-h;
  new Chart(canvasAt(0,T,W,H),{type:'line',data:{datasets:datasets(layers,cols)},plugins:[frame],options:{
    responsive:false,animation:false,devicePixelRatio:1,events:[],
    layout:{autoPadding:false,padding:{top:top,right:W-PX_RIGHT,left:0,bottom:0}},
    plugins:{legend:{display:false},tooltip:{enabled:false},title:{display:false}},
    scales:{
      x:{type:'linear',min:0,max:358.75,afterBuildTicks:s=>{s.ticks=LONTICKS.map(v=>({value:v}));},afterFit:s=>{s.height=xh;},
         border:{display:false},grid:{drawOnChartArea:false,tickLength:15,tickWidth:LW,tickColor:'#000'},
         ticks:{display:showX,autoSkip:false,maxRotation:0,padding:15,color:'#000',font:{size:FS,family:FF},callback:v=>String(v)}},
      y:{type:'linear',position:'left',reverse:true,min:1,max:1000,weight:1,afterBuildTicks:s=>{s.ticks=PTICKS.map(v=>({value:v}));},afterFit:s=>{s.width=PX_LEFT;},
         border:{display:false},grid:{drawOnChartArea:false,tickLength:15,tickWidth:LW,tickColor:'#000'},
         ticks:{autoSkip:false,padding:14,labelOffset:4,color:'#000',font:{size:FS,family:FF},callback:v=>String(v)}},
      yr:{type:'linear',position:'left',reverse:true,min:1,max:1000,weight:0,afterBuildTicks:s=>{s.ticks=PLEVELS.map(v=>({value:v}));},afterFit:s=>{s.width=0;},
         border:{display:false},grid:{drawOnChartArea:false,tickLength:16,tickWidth:2.5,tickColor:'#f00'},ticks:{display:false}}
    }}});
}
function colorbar(i,edges,cols,tickVals,tickLabels,minorVals){
  const p=PANELS[i],mt=60,mb=60,T=Math.round(p.top-mt),L=2880,H=Math.round(p.bottom-p.top+mt+mb),top=p.top-T,cw=W-L;
  const bottomPad=H-top-(p.bottom-p.top);
  const scales={
    x:{display:false},
    y:{position:'right',min:edges[0],max:edges[edges.length-1],weight:1,afterBuildTicks:s=>{s.ticks=tickVals.map(v=>({value:v}));},afterFit:s=>{s.width=W-CB_RIGHT;},
       border:{display:false},grid:{drawOnChartArea:false,tickLength:15,tickWidth:LW,tickColor:'#000'},
       ticks:{autoSkip:false,padding:14,labelOffset:4,color:'#000',font:{size:FS,family:FF},callback:v=>tickLabels[tickVals.indexOf(v)]}}
  };
  if(minorVals)scales.y2={position:'right',min:edges[0],max:edges[edges.length-1],weight:0,afterBuildTicks:s=>{s.ticks=minorVals.map(v=>({value:v}));},afterFit:s=>{s.width=0;},
       border:{display:false},grid:{drawOnChartArea:false,tickLength:8,tickWidth:LW*0.75,tickColor:'#000'},ticks:{display:false}};
  new Chart(canvasAt(L,T,cw,H),{type:'bar',
    data:{labels:[''],datasets:cols.map((c,k)=>({data:[[edges[k],edges[k+1]]],backgroundColor:c,borderWidth:0,barPercentage:1,categoryPercentage:1,grouped:false}))},
    plugins:[frame],options:{responsive:false,animation:false,devicePixelRatio:1,events:[],
      layout:{autoPadding:false,padding:{top:top,bottom:bottomPad,left:CB_LEFT-L,right:0}},
      plugins:{legend:{display:false},tooltip:{enabled:false}},scales}});
}
function text(html,l,baseline,size,extra){const d=document.createElement('div');d.className='t';d.innerHTML=html;d.style.left=l+'px';d.style.top=(baseline-0.846*size)+'px';d.style.fontSize=size+'px';if(extra)d.style.cssText+=extra;fig.appendChild(d);return d;}

panel(0,LAYERS1,COOLWARM,false);
panel(1,LAYERS2,COOLWARM,false);
panel(2,LAYERS3,COOLWARM,false);
panel(3,LAYERS4,PUOR,true);
colorbar(0,CB1_LEVELS,COOLWARM,CB1_TICKS,CB1_LABELS);
colorbar(1,CB1_LEVELS,COOLWARM,CB1_TICKS,CB1_LABELS);
colorbar(2,CB3_LEVELS,COOLWARM,CB3_TICKS,CB3_LABELS);
const idx=CB4_LEVELS.map((v,k)=>k);
colorbar(3,idx,PUOR,CB4_TICKS.map(v=>CB4_LEVELS.indexOf(v)),CB4_LABELS,idx);

const SUB=33.33;
text('Q - SON - Meridional',0,78,62.5,'left:1619px;transform:translateX(-50%);');
text('<b>Test</b><span style="margin:0 9px 0 7px">:</span><span style="letter-spacing:.3px">f.e23_alpha17f.FLTHIST_ne30.roughtopo.099</span>',PX_LEFT,143,SUB);
text('years: 1995-2006',PX_LEFT,183.5,SUB);
text('<b>Baseline</b><span style="margin:0 6px 0 7px">:</span><span style="letter-spacing:.12px">b.e30_beta02.BLT1850.ne30_t232.104</span>',PX_LEFT,868.5,SUB);
text('years: 1-5',PX_LEFT,909,SUB);
text('<b>Test<span style="margin:0 8px">\u2212</span>Baseline</b>',PX_LEFT,1590.5,SUB);
text('<b>Test % Diff Baseline</b>',PX_LEFT,2272.5,SUB);
text('LONGITUDE',0,2997,FS,'left:1568px;transform:translateX(-50%);');
text('PRESSURE [hPa]',0,1534,FS,'left:48px;transform:translate(-50%,0) rotate(-90deg);');
</script></body></html>
